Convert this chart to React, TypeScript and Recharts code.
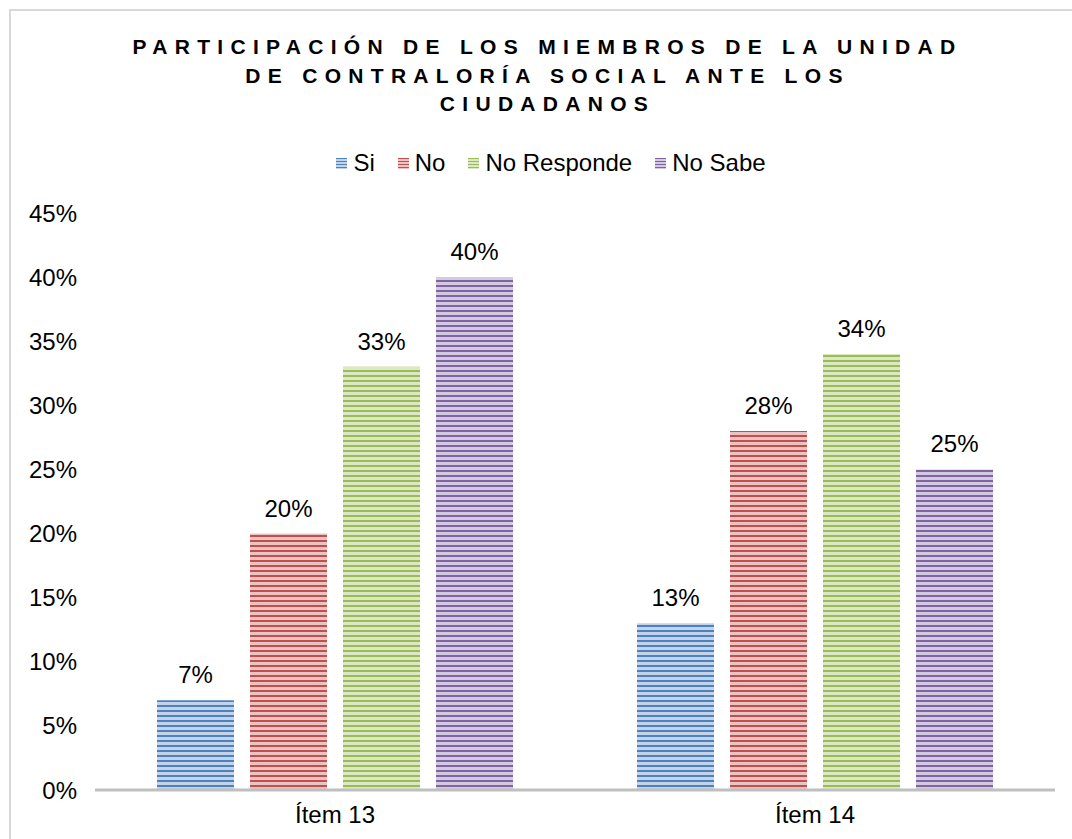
import { BarChart, Bar, XAxis, YAxis, LabelList } from "recharts"

const categories = ["Ítem 13", "Ítem 14"]
const si = [0.07, 0.13]
const no = [0.2, 0.28]
const noResponde = [0.33, 0.34]
const noSabe = [0.4, 0.25]
const yTicks = [0, 0.05, 0.1, 0.15, 0.2, 0.25, 0.3, 0.35, 0.4, 0.45]

const data = categories.map((c, i) => ({
  item: c,
  si: si[i],
  no: no[i],
  noResponde: noResponde[i],
  noSabe: noSabe[i],
}))

const series = [
  { key: "si", name: "Si", dark: "#4F81BD", light: "#C3D4EA" },
  { key: "no", name: "No", dark: "#C0504D", light: "#EBC3C2" },
  { key: "noResponde", name: "No Responde", dark: "#9BBB59", light: "#DCE8C4" },
  { key: "noSabe", name: "No Sabe", dark: "#8064A2", light: "#D3C9E0" },
]

const font = "'Liberation Sans', Arial, sans-serif"
const pct = (v: number) => `${Math.round(v * 100)}%`

export default function App() {
  return (
    <div
      style={{
        position: "absolute",
        left: 0,
        top: 0,
        width: 1072,
        height: 839,
        overflow: "hidden",
        background: "#fff",
        fontFamily: font,
      }}
    >
      <svg width={0} height={0} style={{ position: "absolute" }}>
        <defs>
          {series.map((s) => (
            <pattern
              key={s.key}
              id={`stripe-${s.key}`}
              patternUnits="userSpaceOnUse"
              width={8}
              height={5}
            >
              <rect x={0} y={0} width={8} height={5} fill={s.light} />
              <rect x={0} y={0} width={8} height={2} fill={s.dark} />
            </pattern>
          ))}
        </defs>
      </svg>

      <div
        style={{
          position: "absolute",
          left: 9,
          top: 9,
          width: 1100,
          height: 900,
          border: "2px solid #D9D9D9",
        }}
      />

      <div
        style={{
          position: "absolute",
          left: 0,
          top: 33,
          width: 1095,
          textAlign: "center",
          fontSize: 21,
          fontWeight: "bold",
          letterSpacing: 7.3,
          lineHeight: "28.5px",
          color: "#000",
        }}
      >
        PARTICIPACIÓN DE LOS MIEMBROS DE LA UNIDAD
        <br />
        DE CONTRALORÍA SOCIAL ANTE LOS
        <br />
        CIUDADANOS
      </div>

      <div
        style={{
          position: "absolute",
          left: 0,
          top: 148,
          width: 1102,
          display: "flex",
          justifyContent: "center",
          gap: 23,
          fontSize: 24,
          lineHeight: "30px",
          color: "#000",
        }}
      >
        {series.map((s) => (
          <div key={s.key} style={{ display: "flex", alignItems: "center", gap: 6 }}>
            <span
              style={{
                display: "inline-block",
                width: 11,
                height: 11,
                background: `repeating-linear-gradient(to bottom, ${s.dark} 0px, ${s.dark} 1.5px, ${s.light} 1.5px, ${s.light} 3px)`,
              }}
            />
            <span>{s.name}</span>
          </div>
        ))}
      </div>

      <div style={{ position: "absolute", left: 0, top: 0 }}>
        <BarChart
          width={1072}
          height={839}
          data={data}
          margin={{ top: 213, right: 17, left: 0, bottom: 0 }}
          barCategoryGap={62}
          barGap={16}
        >
          <XAxis
            dataKey="item"
            tickLine={false}
            axisLine={{ stroke: "#BFBFBF", strokeWidth: 3 }}
            tick={{ fontSize: 24, fill: "#000", fontFamily: font }}
            tickMargin={10}
            height={49}
          />
          <YAxis
            width={95}
            domain={[0, 0.45]}
            ticks={yTicks}
            interval={0}
            tickFormatter={pct}
            axisLine={false}
            tickLine={false}
            tickSize={0}
            tickMargin={18}
            tick={{ fontSize: 24, fill: "#000", fontFamily: font }}
          />
          {series.map((s) => (
            <Bar
              key={s.key}
              dataKey={s.key}
              name={s.name}
              fill={`url(#stripe-${s.key})`}
              isAnimationActive={false}
            >
              <LabelList
                dataKey={s.key}
                position="top"
                offset={17}
                formatter={(v: any) => pct(Number(v))}
                style={{ fontSize: 24, fill: "#000", fontFamily: font }}
              />
            </Bar>
          ))}
        </BarChart>
      </div>
    </div>
  )
}
